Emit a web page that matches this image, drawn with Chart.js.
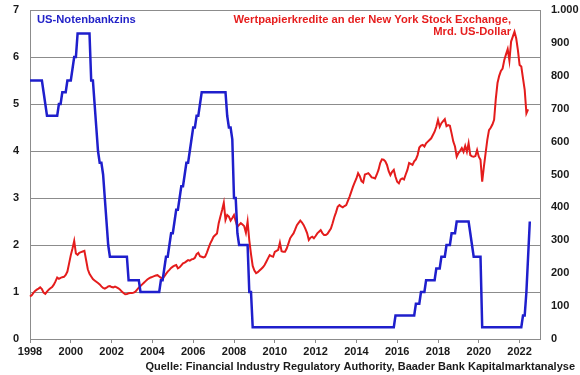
<!DOCTYPE html>
<html>
<head>
<meta charset="utf-8">
<script src="https://cdn.jsdelivr.net/npm/chart.js@4.4.0/dist/chart.umd.min.js"></script>
<style>
  html, body { margin: 0; padding: 0; background: #fff; }
  #wrap { width: 580px; height: 375px; }
</style>
</head>
<body>
<div id="wrap"><canvas id="marginChart" width="580" height="375"></canvas></div>
<script>
// US-Notenbankzins (%) monatlich, Jan 1998 - Jul 2022
const fed1998 = [5.5, 5.5, 5.5, 5.5, 5.5, 5.5, 5.5, 5.5, 5.25, 5.0, 4.75, 4.75];
const fed1999 = [4.75, 4.75, 4.75, 4.75, 4.75, 5.0, 5.0, 5.25, 5.25, 5.25, 5.5, 5.5];
const fed2000 = [5.5, 5.75, 6.0, 6.0, 6.5, 6.5, 6.5, 6.5, 6.5, 6.5, 6.5, 6.5];
const fed2001 = [5.5, 5.5, 5.0, 4.5, 4.0, 3.75, 3.75, 3.5, 3.0, 2.5, 2.0, 1.75];
const fed2002 = [1.75, 1.75, 1.75, 1.75, 1.75, 1.75, 1.75, 1.75, 1.75, 1.75, 1.25, 1.25];
const fed2003 = [1.25, 1.25, 1.25, 1.25, 1.25, 1.0, 1.0, 1.0, 1.0, 1.0, 1.0, 1.0];
const fed2004 = [1.0, 1.0, 1.0, 1.0, 1.0, 1.25, 1.25, 1.5, 1.75, 1.75, 2.0, 2.25];
const fed2005 = [2.25, 2.5, 2.75, 2.75, 3.0, 3.25, 3.25, 3.5, 3.75, 3.75, 4.0, 4.25];
const fed2006 = [4.5, 4.5, 4.75, 4.75, 5.0, 5.25, 5.25, 5.25, 5.25, 5.25, 5.25, 5.25];
const fed2007 = [5.25, 5.25, 5.25, 5.25, 5.25, 5.25, 5.25, 5.25, 4.75, 4.5, 4.5, 4.25];
const fed2008 = [3.0, 3.0, 2.25, 2.0, 2.0, 2.0, 2.0, 2.0, 2.0, 1.0, 1.0, 0.25];
const fed2009 = [0.25, 0.25, 0.25, 0.25, 0.25, 0.25, 0.25, 0.25, 0.25, 0.25, 0.25, 0.25];
const fed2010 = [0.25, 0.25, 0.25, 0.25, 0.25, 0.25, 0.25, 0.25, 0.25, 0.25, 0.25, 0.25];
const fed2011 = [0.25, 0.25, 0.25, 0.25, 0.25, 0.25, 0.25, 0.25, 0.25, 0.25, 0.25, 0.25];
const fed2012 = [0.25, 0.25, 0.25, 0.25, 0.25, 0.25, 0.25, 0.25, 0.25, 0.25, 0.25, 0.25];
const fed2013 = [0.25, 0.25, 0.25, 0.25, 0.25, 0.25, 0.25, 0.25, 0.25, 0.25, 0.25, 0.25];
const fed2014 = [0.25, 0.25, 0.25, 0.25, 0.25, 0.25, 0.25, 0.25, 0.25, 0.25, 0.25, 0.25];
const fed2015 = [0.25, 0.25, 0.25, 0.25, 0.25, 0.25, 0.25, 0.25, 0.25, 0.25, 0.25, 0.5];
const fed2016 = [0.5, 0.5, 0.5, 0.5, 0.5, 0.5, 0.5, 0.5, 0.5, 0.5, 0.5, 0.75];
const fed2017 = [0.75, 0.75, 1.0, 1.0, 1.0, 1.25, 1.25, 1.25, 1.25, 1.25, 1.25, 1.5];
const fed2018 = [1.5, 1.5, 1.75, 1.75, 1.75, 2.0, 2.0, 2.0, 2.25, 2.25, 2.25, 2.5];
const fed2019 = [2.5, 2.5, 2.5, 2.5, 2.5, 2.5, 2.5, 2.25, 2.0, 1.75, 1.75, 1.75];
const fed2020 = [1.75, 1.75, 0.25, 0.25, 0.25, 0.25, 0.25, 0.25, 0.25, 0.25, 0.25, 0.25];
const fed2021 = [0.25, 0.25, 0.25, 0.25, 0.25, 0.25, 0.25, 0.25, 0.25, 0.25, 0.25, 0.25];
const fed2022 = [0.25, 0.25, 0.5, 0.5, 1.0, 1.75, 2.5];

// Wertpapierkredite NYSE (Mrd. US-Dollar) monatlich, Jan 1998 - Jun 2022
const debt1998 = [129, 133, 140, 146, 150, 153, 157, 152, 141, 137, 144, 150];
const debt1999 = [154, 158, 165, 175, 187, 183, 186, 188, 189, 195, 205, 230];
const debt2000 = [255, 275, 298, 260, 256, 262, 264, 266, 268, 240, 212, 198];
const debt2001 = [190, 182, 178, 174, 170, 166, 160, 155, 153, 156, 160, 161];
const debt2002 = [158, 157, 159, 157, 154, 150, 144, 140, 136, 137, 139, 140];
const debt2003 = [140, 141, 144, 150, 156, 161, 166, 171, 176, 181, 184, 187];
const debt2004 = [189, 191, 193, 194, 190, 186, 184, 190, 198, 205, 210, 216];
const debt2005 = [220, 223, 225, 215, 218, 224, 230, 232, 236, 240, 238, 242];
const debt2006 = [243, 247, 258, 262, 252, 250, 248, 250, 262, 276, 290, 300];
const debt2007 = [311, 316, 321, 352, 372, 392, 414, 362, 377, 372, 360, 368];
const debt2008 = [377, 358, 341, 347, 352, 348, 343, 323, 357, 300, 258, 222];
const debt2009 = [208, 200, 203, 208, 213, 218, 225, 235, 245, 255, 252, 250];
const debt2010 = [265, 268, 271, 293, 267, 265, 265, 275, 290, 306, 314, 321];
const debt2011 = [333, 346, 353, 360, 354, 346, 335, 322, 301, 308, 311, 306];
const debt2012 = [313, 321, 326, 331, 322, 316, 316, 320, 328, 336, 352, 370];
const debt2013 = [385, 402, 407, 403, 400, 404, 407, 420, 433, 448, 463, 476];
const debt2014 = [488, 504, 495, 480, 476, 500, 502, 504, 498, 491, 490, 488];
const debt2015 = [500, 514, 535, 546, 545, 540, 529, 510, 498, 508, 514, 493];
const debt2016 = [478, 473, 485, 488, 485, 500, 514, 535, 532, 529, 540, 546];
const debt2017 = [559, 582, 588, 590, 585, 595, 600, 605, 610, 620, 630, 645];
const debt2018 = [666, 645, 656, 662, 668, 647, 650, 648, 625, 600, 585, 554];
const debt2019 = [565, 572, 580, 569, 587, 569, 595, 559, 555, 554, 556, 574];
const debt2020 = [554, 545, 478, 524, 565, 605, 635, 642, 652, 666, 730, 778];
const debt2021 = [800, 815, 822, 848, 865, 881, 846, 904, 919, 934, 914, 878];
const debt2022 = [833, 828, 792, 757, 686, 698];

// Achsenbeschriftung
const tickYears = ['1998', '2000', '2002', '2004', '2006', '2008', '2010', '2012',
                   '2014', '2016', '2018', '2020', '2022'];
const firstYear = 1998;
const lastYear = 2022;

const fedRate = [].concat(fed1998, fed1999, fed2000, fed2001, fed2002, fed2003, fed2004,
  fed2005, fed2006, fed2007, fed2008, fed2009, fed2010, fed2011, fed2012, fed2013,
  fed2014, fed2015, fed2016, fed2017, fed2018, fed2019, fed2020, fed2021, fed2022);
const marginDebt = [].concat(debt1998, debt1999, debt2000, debt2001, debt2002, debt2003,
  debt2004, debt2005, debt2006, debt2007, debt2008, debt2009, debt2010, debt2011,
  debt2012, debt2013, debt2014, debt2015, debt2016, debt2017, debt2018, debt2019,
  debt2020, debt2021, debt2022);

// Monatslabels bis Jan 2023 (rechter Achsenrand)
const months = [];
for (let y = firstYear; y <= lastYear; y++) {
  for (let m = 1; m <= 12; m++) months.push(y + '-' + String(m).padStart(2, '0'));
}
months.push((lastYear + 1) + '-01');

function isYearTick(i) {
  const lab = months[i];
  return lab && lab.endsWith('-01') && tickYears.includes(lab.slice(0, 4));
}

const FONT = "'Liberation Sans', Arial, sans-serif";
const gridGrey = '#8c8c8c';

const textPlugin = {
  id: 'texts',
  afterDraw(chart) {
    const c = chart.ctx;
    c.save();
    c.font = 'bold 11.2px ' + FONT;
    c.textBaseline = 'middle';
    c.fillStyle = '#2323c8';
    c.textAlign = 'left';
    c.fillText('US-Notenbankzins', 37, 19.5);
    c.fillStyle = '#e61e1e';
    c.textAlign = 'right';
    c.fillText('Wertpapierkredite an der New York Stock Exchange,', 511, 19.5);
    c.fillText('Mrd. US-Dollar', 511, 32);
    c.font = 'bold 11px ' + FONT;
    c.fillStyle = '#1a1a1a';
    c.fillText('Quelle: Financial Industry Regulatory Authority, Baader Bank Kapitalmarktanalyse', 575, 367);
    c.restore();
  }
};

// keine automatischen Zusatzabstände der Achsen
function noPadV(s) { s.paddingTop = 0; s.paddingBottom = 0; }

new Chart(document.getElementById('marginChart').getContext('2d'), {
  type: 'line',
  data: {
    labels: months,
    datasets: [
      {
        label: 'US-Notenbankzins',
        data: fedRate,
        yAxisID: 'y',
        borderColor: '#1f1fcc',
        borderWidth: 2.5,
        pointRadius: 0,
        tension: 0,
        fill: false
      },
      {
        label: 'Wertpapierkredite',
        data: marginDebt,
        yAxisID: 'y1',
        borderColor: '#e41c1c',
        borderWidth: 2,
        pointRadius: 0,
        tension: 0,
        fill: false
      }
    ]
  },
  options: {
    responsive: false,
    animation: false,
    devicePixelRatio: 1,
    layout: { padding: { top: 10, left: 0, right: 0, bottom: 0 } },
    plugins: {
      legend: { display: false },
      tooltip: { enabled: false }
    },
    scales: {
      x: {
        type: 'category',
        offset: false,
        afterFit(s) { s.height = 36; s.paddingLeft = 0; s.paddingRight = 0; },
        grid: {
          drawOnChartArea: false,
          tickLength: 4,
          color: (ctx) => isYearTick(ctx.index) ? gridGrey : 'rgba(0,0,0,0)'
        },
        border: { color: gridGrey, width: 1 },
        ticks: {
          autoSkip: false,
          maxRotation: 0,
          padding: 2,
          color: '#1a1a1a',
          font: { family: FONT, size: 11, weight: 'bold' },
          callback(value, i) { return isYearTick(i) ? months[i].slice(0, 4) : ''; }
        }
      },
      y: {
        position: 'left',
        min: 0,
        max: 7,
        afterFit(s) { s.width = 30; noPadV(s); },
        grid: { color: gridGrey, lineWidth: 1, drawTicks: false },
        border: { color: gridGrey, width: 1 },
        ticks: {
          stepSize: 1,
          padding: 11,
          color: '#1a1a1a',
          font: { family: FONT, size: 11, weight: 'bold' }
        }
      },
      y1: {
        position: 'right',
        min: 0,
        max: 1000,
        afterFit(s) { s.width = 40; noPadV(s); },
        grid: { drawOnChartArea: false, drawTicks: false },
        border: { color: gridGrey, width: 1 },
        ticks: {
          stepSize: 100,
          padding: 11,
          color: '#1a1a1a',
          font: { family: FONT, size: 11, weight: 'bold' },
          callback(v) { return v === 1000 ? '1.000' : String(v); }
        }
      }
    }
  },
  plugins: [textPlugin]
});
</script>
</body>
</html>
